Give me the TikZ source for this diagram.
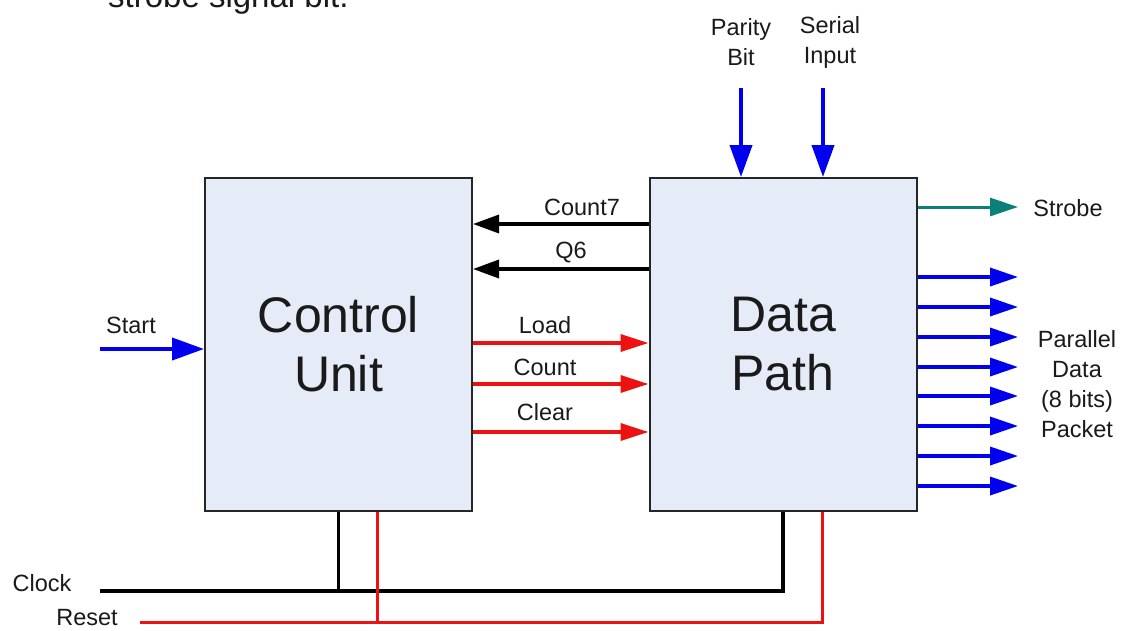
\documentclass[tikz,border=0pt]{standalone}
\usepackage{fontspec}
\setmainfont{Liberation Sans}
\usetikzlibrary{arrows.meta}
\definecolor{boxfill}{HTML}{E6ECF7}
\definecolor{sigblue}{HTML}{0000EE}
\definecolor{sigred}{HTML}{EE1111}
\definecolor{sigteal}{HTML}{0A8078}
\definecolor{txt}{HTML}{1A1A1A}
\begin{document}
\begin{tikzpicture}[x=1pt,y=-1pt,
  block/.style={draw=black!85,line width=2pt,fill=boxfill,minimum width=267pt,minimum height=333pt,
    align=center,text=txt,font=\fontsize{50}{59}\selectfont},
  lbl/.style={text=txt,font=\fontsize{23.5}{30}\selectfont,inner sep=0pt,align=center},
  bluearr/.style={draw=sigblue,line width=4pt,-{Triangle[length=32pt,width=22pt]}},
  blueout/.style={draw=sigblue,line width=3.5pt,-{Triangle[length=28pt,width=18pt]}},
  tealarr/.style={draw=sigteal,line width=3pt,-{Triangle[length=28pt,width=18pt]}},
  blkarr/.style={draw=black,line width=3.5pt,-{Triangle[length=26pt,width=18pt]}},
  redarr/.style={draw=sigred,line width=3.5pt,-{Triangle[length=28pt,width=17pt]}},
  blkline/.style={draw=black,line width=3.5pt},
  redline/.style={draw=sigred,line width=3pt}]
\useasboundingbox (0,0) rectangle (1126,630);
\clip (0,0) rectangle (1126,630);
\fill[white] (0,0) rectangle (1126,630);

% cut-off caption line at the top
\node[anchor=base west,inner sep=0pt,text=txt,font=\fontsize{33}{40}\selectfont] (cap) at (108,7) {strobe signal bit.};

% blocks
\node[block] (cu) at (338.5,344.5) {Control\\Unit};
\node[block] (dp) at (783,344.5) {Data\\Path};

% Start
\coordinate (start) at (100,349);
\draw[bluearr] (start) -- (cu.west |- start);
\node[lbl] (startl) at (131,325) {Start};

% feedback signals
\draw[blkarr] ([yshift=120.5pt]dp.west) -- ([yshift=120.5pt]cu.east);
\node[lbl] (c7l) at (582,207) {Count7};
\draw[blkarr] ([yshift=75.5pt]dp.west) -- ([yshift=75.5pt]cu.east);
\node[lbl] (q6l) at (571,253) {Q6};

% control signals
\draw[redarr] ([yshift=1.5pt]cu.east) -- ([yshift=1.5pt]dp.west);
\node[lbl] (loadl) at (545,325) {Load};
\draw[redarr] ([yshift=-39.5pt]cu.east) -- ([yshift=-39.5pt]dp.west);
\node[lbl] (countl) at (545,367) {Count};
\draw[redarr] ([yshift=-87.5pt]cu.east) -- ([yshift=-87.5pt]dp.west);
\node[lbl] (clearl) at (545,412) {Clear};

% top inputs
\coordinate (par) at (741,88);
\coordinate (ser) at (823,88);
\draw[bluearr] (par) -- (par |- dp.north);
\draw[bluearr] (ser) -- (ser |- dp.north);
\node[lbl] (parl) at (741,42) {Parity\\Bit};
\node[lbl] (serl) at (830,42) {Serial\\Input};

% strobe
\coordinate (stb) at (1018,207);
\draw[tealarr] (dp.east |- stb) -- (stb);
\node[lbl] (stbl) at (1068,208) {Strobe};

% parallel data outputs
\foreach \i/\yy in {1/277,2/307,3/337,4/367,5/396,6/426,7/456,8/486}{
  \coordinate (p\i) at (1018,\yy);
  \draw[blueout] (dp.east |- p\i) -- (p\i);
}
\node[lbl] (pdl) at (1077,384) {Parallel\\Data\\(8 bits)\\Packet};

% clock
\coordinate (clk) at (100,591);
\draw[blkline] (clk) -- (clk -| dp.south) -- (dp.south);
\draw[blkline] (cu.south) -- (cu.south |- clk);
\node[lbl] (clkl) at (42,583) {Clock};

% reset
\coordinate (rst) at (140,622);
\coordinate (rdp) at ([xshift=39pt]dp.south);
\coordinate (rcu) at ([xshift=38.5pt]cu.south);
\draw[redline] (rst) -- (rst -| rdp) -- (rdp);
\draw[redline] (rcu) -- (rcu |- rst);
\node[lbl] (rstl) at (87,618) {Reset};
\end{tikzpicture}
\end{document}
